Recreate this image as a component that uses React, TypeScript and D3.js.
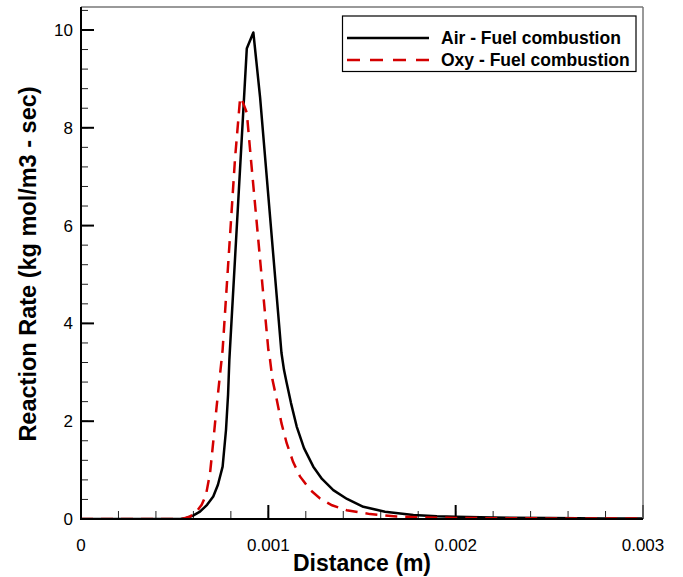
import React from 'react';
import * as d3 from 'd3';

// Air - Fuel combustion (solid black)
const airX = [0, 0.0003, 0.00053, 0.000564, 0.000598, 0.000635, 0.000673, 0.000706, 0.000731, 0.000756, 0.000774, 0.000785, 0.000792, 0.000885, 0.00092, 0.000956, 0.00107, 0.0010835, 0.001098, 0.001121, 0.0011514, 0.0011904, 0.00124, 0.0012865, 0.0013468, 0.00142, 0.001507, 0.001623, 0.001774, 0.0019, 0.002, 0.0022, 0.0025, 0.0028, 0.003];
const airY = [0, 0, 0, 0.02, 0.07, 0.15, 0.29, 0.46, 0.7, 1.07, 1.82, 2.54, 3.26, 9.62, 9.95, 8.62, 3.4, 3.05, 2.78, 2.37, 1.89, 1.45, 1.07, 0.82, 0.59, 0.41, 0.25, 0.15, 0.08, 0.055, 0.045, 0.03, 0.02, 0.012, 0.01];

// Oxy - Fuel combustion (dashed red)
const oxyX = [0, 0.0003, 0.00054, 0.000582, 0.000614, 0.000644, 0.000667, 0.000689, 0.000707, 0.000724, 0.000756, 0.000822, 0.000849, 0.000854, 0.000885, 0.000907, 0.001, 0.001009, 0.001022, 0.001045, 0.00107, 0.001098, 0.001132, 0.001169, 0.001222, 0.001276, 0.00134, 0.001418, 0.001543, 0.001685, 0.00185, 0.002, 0.0025, 0.003];
const oxyY = [0, 0, 0, 0.05, 0.14, 0.29, 0.49, 0.94, 1.62, 2.3, 3.46, 7.36, 8.59, 8.62, 8.31, 7.36, 3.46, 3.26, 2.85, 2.44, 1.96, 1.55, 1.17, 0.87, 0.6, 0.42, 0.28, 0.18, 0.1, 0.05, 0.03, 0.02, 0.012, 0.008];

const xTicks = [0, 0.001, 0.002, 0.003];
const yTicks = [0, 2, 4, 6, 8, 10];
const legendLabels = ['Air - Fuel combustion', 'Oxy - Fuel combustion'];

const W = 683;
const H = 577;
const plot = { left: 81, right: 643, top: 7, bottom: 519 };
const font = 'Liberation Sans, Arial, Helvetica, sans-serif';

export default function App() {
  const x = d3.scaleLinear().domain([0, 0.003]).range([plot.left, plot.right]);
  const y = d3.scaleLinear().domain([0, 10.47]).range([plot.bottom, plot.top]);

  const line = d3.line<[number, number]>()
    .x(d => x(d[0]))
    .y(d => y(d[1]));

  const airPath = line(airX.map((v, i) => [v, airY[i]]) as [number, number][]) || '';
  const oxyPath = line(oxyX.map((v, i) => [v, oxyY[i]]) as [number, number][]) || '';

  const xMinor = d3.range(0, 0.003 + 1e-9, 0.0002);
  const yMinor = d3.range(0, 10.4 + 1e-9, 0.4);

  return (
    <svg width={W} height={H} style={{ position: 'absolute', left: 0, top: 0, background: '#fff' }} fontFamily={font}>
      <defs>
        <clipPath id="plotclip">
          <rect x={plot.left} y={plot.top} width={plot.right - plot.left} height={plot.bottom - plot.top} />
        </clipPath>
      </defs>

      {/* minor ticks */}
      {xMinor.map((t, i) => (
        <line key={'xm' + i} x1={x(t)} x2={x(t)} y1={plot.bottom} y2={plot.bottom - 8} stroke="#222" strokeWidth={1} />
      ))}
      {yMinor.map((t, i) => (
        <line key={'ym' + i} x1={plot.left} x2={plot.left + 7} y1={y(t)} y2={y(t)} stroke="#222" strokeWidth={1} />
      ))}
      {/* major ticks */}
      {xTicks.map(t => (
        <line key={'xM' + t} x1={x(t)} x2={x(t)} y1={plot.bottom} y2={plot.bottom - 14} stroke="#000" strokeWidth={2} />
      ))}
      {yTicks.map(t => (
        <line key={'yM' + t} x1={plot.left} x2={plot.left + 13} y1={y(t)} y2={y(t)} stroke="#000" strokeWidth={2} />
      ))}

      {/* curves */}
      <g clipPath="url(#plotclip)">
        <path d={airPath} fill="none" stroke="#000" strokeWidth={2.5} strokeLinejoin="round" />
        <path d={oxyPath} fill="none" stroke="#d40000" strokeWidth={2.5} strokeDasharray="12,8" />
      </g>

      {/* frame */}
      <line x1={plot.left} x2={plot.right} y1={plot.top} y2={plot.top} stroke="#777" strokeWidth={1.5} />
      <line x1={plot.right} x2={plot.right} y1={plot.top} y2={plot.bottom} stroke="#777" strokeWidth={1.5} />
      <line x1={plot.left} x2={plot.left} y1={plot.top} y2={plot.bottom + 1} stroke="#000" strokeWidth={2} />
      <line x1={plot.left - 1} x2={plot.right} y1={plot.bottom} y2={plot.bottom} stroke="#000" strokeWidth={2} />

      {/* tick labels */}
      {xTicks.map(t => (
        <text key={'xl' + t} x={x(t)} y={551} textAnchor="middle" fontSize={17} fill="#000">
          {t === 0 ? '0' : d3.format('.3f')(t)}
        </text>
      ))}
      {yTicks.map(t => (
        <text key={'yl' + t} x={plot.left - 8} y={y(t) + 6} textAnchor="end" fontSize={17} fill="#000">
          {t}
        </text>
      ))}

      {/* axis titles */}
      <text x={x(0.0015)} y={571} textAnchor="middle" fontSize={23} fontWeight="bold" fill="#000">
        Distance (m)
      </text>
      <text transform="translate(36, 264) rotate(-90)" textAnchor="middle" fontSize={23.5} fontWeight="bold" fill="#000">
        Reaction Rate (kg mol/m3 - sec)
      </text>

      {/* legend */}
      <rect x={342.5} y={16} width={293.5} height={55.5} fill="#fff" stroke="#000" strokeWidth={1.2} />
      <line x1={347} x2={429} y1={38} y2={38} stroke="#000" strokeWidth={2.5} />
      <line x1={347} x2={429} y1={60} y2={60} stroke="#d40000" strokeWidth={2.5} strokeDasharray="13,10" />
      {legendLabels.map((l, i) => (
        <text key={l} x={441} y={38 + i * 22 + 6} fontSize={17.5} fontWeight="bold" fill="#000">
          {l}
        </text>
      ))}
    </svg>
  );
}
